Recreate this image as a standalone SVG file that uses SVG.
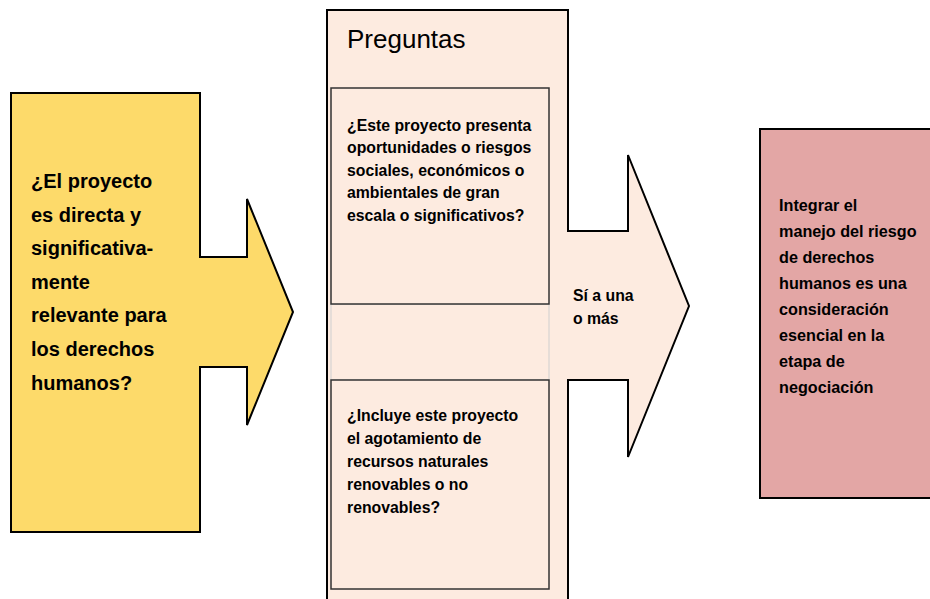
<svg xmlns="http://www.w3.org/2000/svg" width="930" height="599" viewBox="0 0 930 599">
  <style>
    .b { font-family: "Liberation Sans", Arial, sans-serif; font-weight: bold; fill: #000; }
    .r { font-family: "Liberation Sans", Arial, sans-serif; fill: #000; }
    .outline { stroke: #000; stroke-width: 2; stroke-linejoin: miter; }
    .inner { fill: #FDEBE0; stroke: #333; stroke-width: 1.5; }
  </style>
  <rect width="930" height="599" fill="#fff"/>

  <g id="node-left">
    <path class="outline" fill="#FDDA6A" d="M11,93 H200 V257 H247 V199 L293,312 L247,425 V367 H200 V532 H11 Z"/>
    <text class="b" font-size="20" x="31">
      <tspan x="31" y="188">¿El proyecto</tspan>
      <tspan x="31" y="222">es directa y</tspan>
      <tspan x="31" y="255">significativa-</tspan>
      <tspan x="31" y="289">mente</tspan>
      <tspan x="31" y="322">relevante para</tspan>
      <tspan x="31" y="356">los derechos</tspan>
      <tspan x="31" y="390">humanos?</tspan>
    </text>
  </g>

  <g id="node-preguntas">
    <path class="outline" fill="#FDEBE0" d="M327,10 H568 V231 H628 V155 L689,306 L628,457 V380 H568 V610 H327 Z"/>
    <text class="r" font-size="26" x="347" y="48">Preguntas</text>
    <rect x="331" y="304" width="218" height="76" fill="#FDEBE0" stroke="#cfcfcf" stroke-width="1"/>
    <text class="b" font-size="15.8">
      <tspan x="573" y="301">Sí a una</tspan>
      <tspan x="573" y="324">o más</tspan>
    </text>
  </g>

  <g id="node-q1">
    <rect class="inner" x="331" y="88" width="218" height="216"/>
    <text class="b" font-size="15.8">
      <tspan x="347" y="131">¿Este proyecto presenta</tspan>
      <tspan x="347" y="153">oportunidades o riesgos</tspan>
      <tspan x="347" y="176">sociales, económicos o</tspan>
      <tspan x="347" y="198">ambientales de gran</tspan>
      <tspan x="347" y="221">escala o significativos?</tspan>
    </text>
  </g>

  <g id="node-q2">
    <rect class="inner" x="331" y="380" width="218" height="209"/>
    <text class="b" font-size="15.8">
      <tspan x="347" y="421">¿Incluye este proyecto</tspan>
      <tspan x="347" y="444">el agotamiento de</tspan>
      <tspan x="347" y="467">recursos naturales</tspan>
      <tspan x="347" y="490">renovables o no</tspan>
      <tspan x="347" y="513">renovables?</tspan>
    </text>
  </g>

  <g id="node-right">
    <rect class="outline" fill="#E3A6A5" x="760" y="129" width="180" height="369"/>
    <text class="b" font-size="16.2">
      <tspan x="779" y="211">Integrar el</tspan>
      <tspan x="779" y="237">manejo del riesgo</tspan>
      <tspan x="779" y="263">de derechos</tspan>
      <tspan x="779" y="289">humanos es una</tspan>
      <tspan x="779" y="315">consideración</tspan>
      <tspan x="779" y="341">esencial en la</tspan>
      <tspan x="779" y="367">etapa de</tspan>
      <tspan x="779" y="393">negociación</tspan>
    </text>
  </g>

  <g id="connectors"></g>
</svg>
